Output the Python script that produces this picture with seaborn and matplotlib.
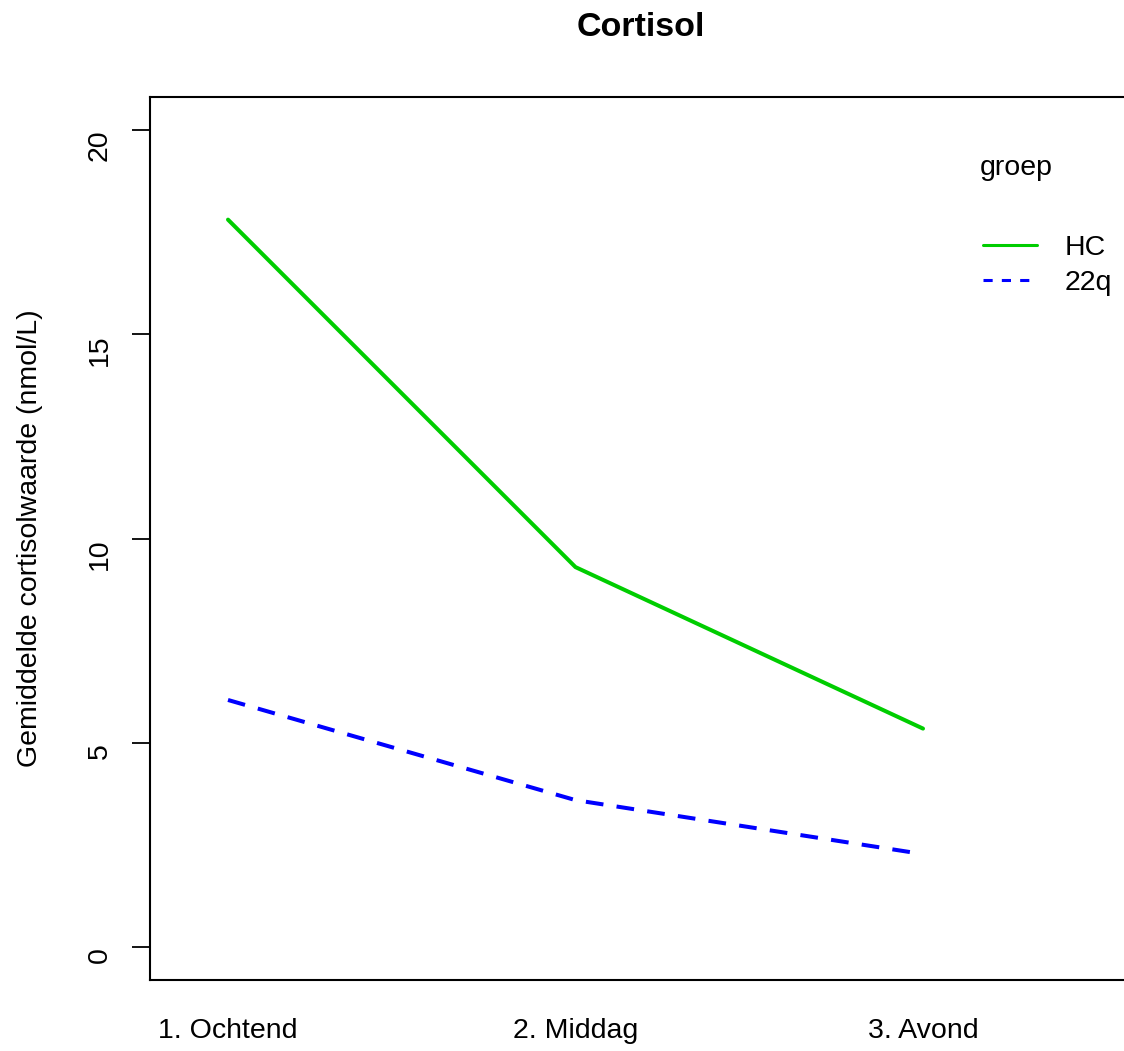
import matplotlib
matplotlib.use("Agg")
import matplotlib.pyplot as plt
import seaborn as sns
import pandas as pd

moments = ["1. Ochtend", "2. Middag", "3. Avond"]
groups = ["HC", "22q"]
hc_values = [17.8, 9.3, 5.35]
q22_values = [6.05, 3.6, 2.28]
y_ticks = [0, 5, 10, 15, 20]

df = pd.DataFrame({
    "pos": [1, 2, 3] * 2,
    "moment": moments * 2,
    "groep": ["HC"] * 3 + ["22q"] * 3,
    "waarde": hc_values + q22_values,
})

sns.set_style("white")
plt.rcParams['font.family'] = ['Liberation Sans', 'DejaVu Sans']
plt.rcParams['text.color'] = 'black'
plt.rcParams['axes.labelcolor'] = 'black'
plt.rcParams['xtick.color'] = 'black'
plt.rcParams['ytick.color'] = 'black'

W, H = 1124, 1051
fig = plt.figure(figsize=(W / 100, H / 100), dpi=100)
left_px, right_px, top_px, bottom_px = 150, 1140, 97, 980
ax = fig.add_axes([left_px / W, 1 - bottom_px / H, (right_px - left_px) / W, (bottom_px - top_px) / H])

palette = {"HC": "#00CD00", "22q": "#0000FF"}
dashes = {"HC": "", "22q": (4.4, 3.3)}
sns.lineplot(data=df, x="pos", y="waarde", hue="groep", style="groep",
             palette=palette, dashes=dashes, hue_order=groups, style_order=groups,
             linewidth=2.9, ax=ax, legend=False)

px_per = 347.5
ax.set_xlim(1 - (228 - left_px) / px_per, 1 + (right_px - 228) / px_per)
ax.set_ylim(-0.8, 20.8)

ax.set_xticks([1, 2, 3])
ax.set_xticklabels(moments, fontsize=20.5)
ax.tick_params(axis="x", length=0, pad=27)
ax.set_yticks(y_ticks)
ax.set_yticklabels([str(t) for t in y_ticks], fontsize=20.5, rotation=90, va="center")
ax.tick_params(axis="y", length=13, width=1.3, pad=23, left=True, color="black")
for lab in ax.get_yticklabels():
    lab.set_rotation_mode("anchor")

ax.set_xlabel("")
ax.set_ylabel("Gemiddelde cortisolwaarde (nmol/L)", fontsize=20.5)
ax.yaxis.set_label_coords((30 - left_px) / (right_px - left_px), 0.5)
ax.yaxis.label.set_va("center")

for s in ["left", "top", "bottom"]:
    ax.spines[s].set_visible(True)
    ax.spines[s].set_color("black")
    ax.spines[s].set_linewidth(1.5)
ax.spines["right"].set_visible(False)

fig.text(641 / W, 1 - 28 / H, "Cortisol", ha="center", va="center",
         fontsize=24.5, fontweight="bold")

handles = [plt.Line2D([], [], color=palette[g], lw=2.2,
                      linestyle="-" if g == "HC" else (0, (3.0, 3.0))) for g in groups]
fig.text(980 / W, 1 - 168 / H, "groep", ha="left", va="center", fontsize=20.5)
leg = ax.legend(handles, groups, loc="upper left",
                bbox_to_anchor=(983 / W, 1 - 235 / H), bbox_transform=fig.transFigure,
                frameon=False, fontsize=20.5, handlelength=1.9, handletextpad=0.95,
                labelspacing=0.3, borderpad=0, borderaxespad=0)

fig.savefig("out.png", dpi=100)
